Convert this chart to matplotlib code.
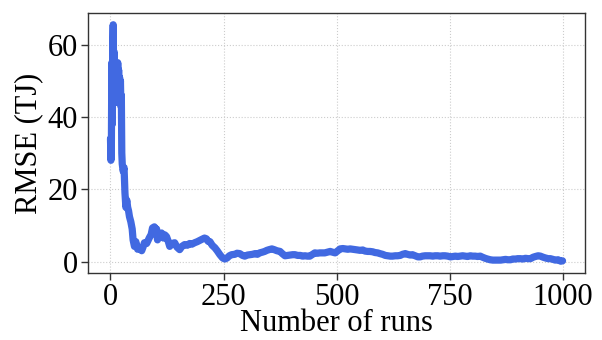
import matplotlib
matplotlib.use("Agg")
import matplotlib.pyplot as plt

plt.rcParams['font.family'] = ['Liberation Serif', 'DejaVu Serif']

runs = [0, 1, 2, 3, 4, 5, 6, 7, 8, 9, 10, 11, 12, 13, 14, 15, 16, 17, 18, 19,
        20, 21, 22, 23, 24, 25, 26, 28, 30, 32, 34, 36, 38, 40, 42, 45, 48, 50,
        53, 56, 60, 64, 69, 72, 75, 80, 86, 90, 93, 97, 100, 102, 104, 108, 113,
        117, 120, 124, 128, 131, 136, 142, 147, 153, 158, 164, 170, 175, 180,
        186, 192, 198, 203, 208, 212, 216, 220, 225, 231, 236, 242, 248, 253,
        258, 263, 268, 275, 280, 286, 292, 297, 303, 308, 314, 320, 325, 330,
        336, 341, 346, 351, 357, 362, 368, 375, 380, 386, 392, 397, 403, 408,
        414, 420, 425, 430, 436, 441, 446, 452, 458, 463, 469, 474, 480, 486,
        491, 497, 502, 508, 514, 519, 525, 530, 536, 541, 547, 552, 558, 563,
        569, 574, 580, 585, 591, 596, 602, 608, 613, 619, 624, 630, 635, 641,
        646, 652, 657, 663, 668, 674, 680, 685, 690, 696, 702, 707, 713, 718,
        724, 729, 735, 740, 746, 752, 757, 763, 768, 774, 779, 785, 790, 796,
        801, 807, 812, 818, 823, 829, 834, 840, 846, 851, 857, 863, 868, 874,
        879, 885, 890, 896, 901, 907, 912, 918, 924, 929, 935, 940, 946, 951,
        957, 962, 968, 973, 979, 984, 990, 996, 1000]

rmse = [34, 28, 33, 55, 38, 60, 65.5, 50, 58, 44, 55, 46, 54, 44, 52, 45, 55,
        47, 53, 44, 51, 45, 50, 43, 46, 30, 27, 25, 26, 19, 15, 17, 15, 14,
        12.4, 11, 9, 6, 4.2, 5.5, 3.4, 3.8, 3.0, 4, 5.2, 5.0, 6.6, 7.5, 9.3,
        9.6, 8.8, 9, 6.0, 7.5, 7.9, 6.5, 7.4, 6.9, 5.5, 4.2, 5, 5.2, 4.0, 3.3,
        4.2, 4.7, 4.5, 5.0, 4.8, 5.2, 5.5, 5.9, 6.2, 6.5, 6.3, 5.6, 5.5, 4.5,
        3.8, 3.0, 1.9, 1.0, 0.7, 1.0, 1.6, 1.9, 2.0, 2.3, 2.2, 1.7, 1.5, 1.8,
        1.9, 2.0, 2.2, 2.0, 2.4, 2.6, 2.8, 3.1, 3.3, 3.5, 3.3, 3.0, 2.8, 2.2,
        1.6, 1.7, 1.8, 1.9, 1.9, 1.7, 1.7, 1.5, 1.6, 1.5, 1.5, 1.9, 2.4, 2.3,
        2.4, 2.4, 2.4, 2.6, 2.8, 2.6, 2.4, 2.9, 3.5, 3.6, 3.5, 3.4, 3.5, 3.4,
        3.3, 3.2, 3.1, 3.2, 2.9, 2.8, 2.8, 2.7, 2.5, 2.4, 2.2, 2.0, 1.7, 1.6,
        1.5, 1.5, 1.6, 1.6, 1.7, 2.0, 2.2, 2.0, 1.8, 1.9, 1.6, 1.3, 1.3, 1.5,
        1.6, 1.6, 1.6, 1.5, 1.6, 1.6, 1.5, 1.6, 1.6, 1.5, 1.3, 1.4, 1.5, 1.4,
        1.5, 1.6, 1.5, 1.4, 1.6, 1.5, 1.5, 1.4, 1.5, 1.2, 0.9, 0.7, 0.5, 0.4,
        0.4, 0.4, 0.4, 0.5, 0.6, 0.5, 0.5, 0.7, 0.7, 0.8, 0.8, 0.7, 0.9, 0.8,
        0.8, 1.2, 1.4, 1.6, 1.5, 1.2, 1.0, 0.8, 0.8, 0.6, 0.4, 0.5, 0.1, 0.2]

x_ticks = [0, 250, 500, 750, 1000]
y_ticks = [0, 20, 40, 60]

fig = plt.figure(figsize=(6.02, 3.4), dpi=100)
ax = fig.add_axes([0.146, 0.197, 0.826, 0.765])

ax.plot(runs, rmse, color='#4169E1', linewidth=5.2, solid_joinstyle='round',
        solid_capstyle='round')

ax.set_xticks(x_ticks)
ax.set_yticks(y_ticks)
ax.tick_params(labelsize=22, length=5, width=1, color='#333333', pad=2)
ax.set_xlabel('Number of runs', fontsize=22, labelpad=-2)
ax.set_ylabel('RMSE (TJ)', fontsize=22, labelpad=3)
ax.grid(True, linestyle=':', color='#cccccc', linewidth=0.8)
ax.set_axisbelow(True)
for s in ax.spines.values():
    s.set_color('#333333')
    s.set_linewidth(1)

fig.savefig('out.png', dpi=100)
